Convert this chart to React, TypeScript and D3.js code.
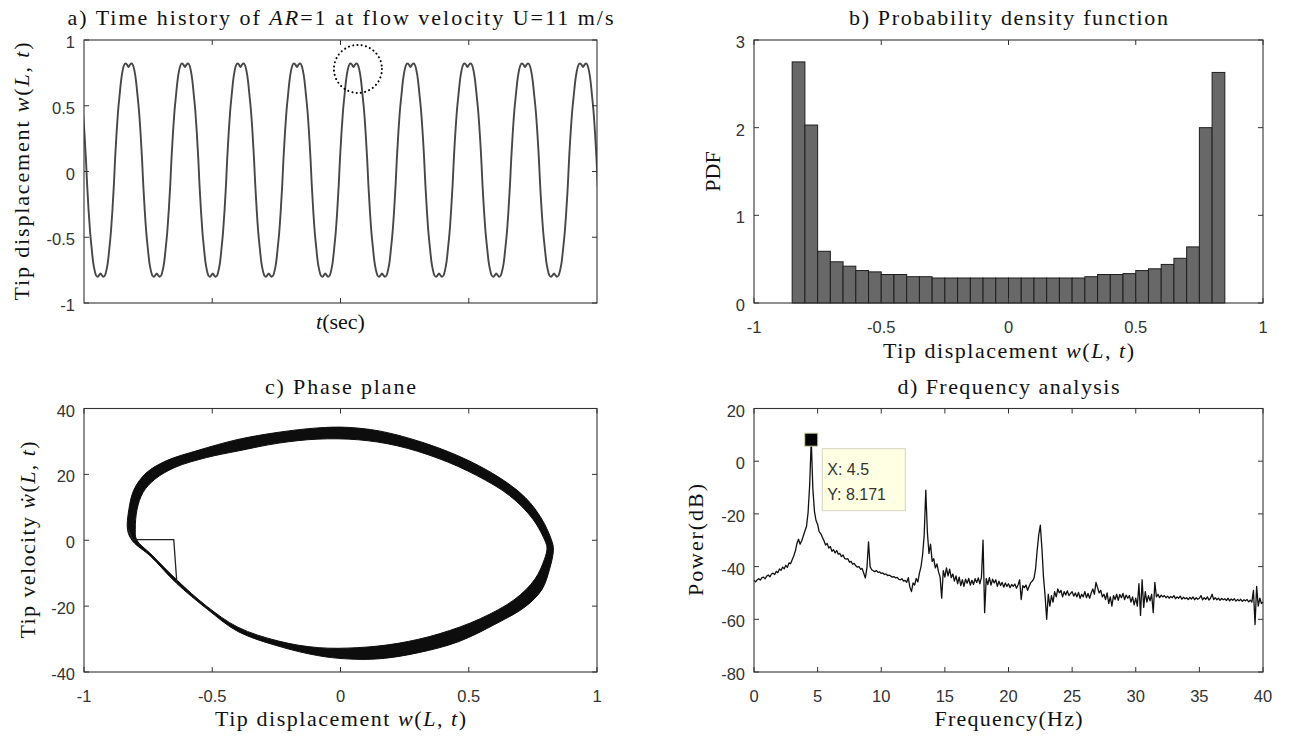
import React from "react";
import * as d3 from "d3";

// ================= DATA =================
// a) time history: instants (s) of the crest centres, and the shape of one cycle
const peakTimes = [-0.0448, 0.1735, 0.3938, 0.6101, 0.8304, 1.0507, 1.2729, 1.4951, 1.7193, 1.9454, 2.1657];
const cyclePhase = [0, 0.027, 0.053, 0.08, 0.106, 0.133, 0.159, 0.186, 0.212, 0.239, 0.25, 0.261, 0.288, 0.314, 0.341, 0.367, 0.394, 0.42, 0.447, 0.473, 0.5, 0.527, 0.553, 0.58, 0.606, 0.633, 0.659, 0.686, 0.712, 0.739, 0.75, 0.761, 0.788, 0.814, 0.841, 0.867, 0.894, 0.92, 0.947, 0.973];
const cycleValue = [0.795, 0.812, 0.822, 0.808, 0.765, 0.69, 0.58, 0.46, 0.3, 0.1, 0, -0.1, -0.3, -0.46, -0.58, -0.685, -0.75, -0.79, -0.8, -0.79, -0.775, -0.79, -0.8, -0.79, -0.75, -0.685, -0.58, -0.46, -0.3, -0.1, 0, 0.1, 0.3, 0.46, 0.58, 0.69, 0.765, 0.808, 0.822, 0.812];
const circleMark = { t: 1.068, w: 0.78 };

// b) histogram (PDF), 34 bins of width 0.05 starting at -0.85
const pdfBinStart = -0.85;
const pdfBinWidth = 0.05;
const pdfValues = [2.75, 2.03, 0.59, 0.47, 0.42, 0.37, 0.355, 0.325, 0.325, 0.3, 0.3, 0.285, 0.285, 0.285, 0.285, 0.285, 0.285, 0.285, 0.285, 0.285, 0.285, 0.285, 0.285, 0.3, 0.325, 0.325, 0.335, 0.37, 0.39, 0.44, 0.51, 0.64, 2.0, 2.63];

// c) phase plane: outer and inner edges of the band of trajectories
const phaseOuterW = [-0.83, -0.825, -0.805, -0.758, -0.68, -0.555, -0.4, -0.24, -0.09, 0.02, 0.15, 0.3, 0.46, 0.61, 0.72, 0.785, 0.825, 0.83, 0.815, 0.785, 0.72, 0.61, 0.46, 0.3, 0.15, 0.02, -0.09, -0.24, -0.4, -0.52, -0.64, -0.74, -0.81];
const phaseOuterV = [3, 9.4, 15.4, 20.4, 24.1, 27.3, 30.6, 32.8, 34.1, 34.3, 33.2, 30.2, 25.6, 19.5, 13, 6.4, -0.5, -3, -8.8, -15, -20.2, -25.2, -30.8, -34.2, -36, -36, -35, -32.2, -27.7, -20.9, -13, -4.9, -0.3];
const phaseInnerW = [-0.8, -0.793, -0.77, -0.724, -0.646, -0.522, -0.4, -0.24, -0.09, 0.07, 0.22, 0.38, 0.53, 0.66, 0.75, 0.8, 0.805, 0.795, 0.758, 0.68, 0.545, 0.385, 0.224, 0.068, -0.087, -0.242, -0.4, -0.522, -0.636, -0.735, -0.795];
const phaseInnerV = [3.3, 9.4, 14.5, 18.5, 22.1, 25.1, 27.1, 29.5, 30.7, 30.5, 28.7, 24.9, 19.7, 13.5, 6.4, -0.7, -2.5, -5.8, -11.8, -17.9, -23.8, -28.4, -31.3, -32.6, -32.6, -30.6, -26.4, -20, -12.2, -4.5, 0.2];
const transientW = [-0.828, -0.81, -0.65, -0.638];
const transientV = [3.4, 0.2, 0.2, -13];

// d) power spectrum, 0 … 40 Hz every 0.125 Hz
const freqStep = 0.125;
const powerDb = [
  -45.2, -45.8, -45.0, -44.6, -45.1, -44.2, -44.0, -44.6, -43.6, -43.2, -43.9, -42.8, -42.5, -43.0, -41.8, -42.3,
  -40.9, -41.4, -40.2, -40.8, -39.5, -40.3, -38.6, -38.9, -37.4, -36.0, -34.1, -31.2, -29.6, -31.5, -30.2, -28.4,
  -26.5, -24.8, -19.5, -9.0, 8.171, -10.5, -19.0, -22.5, -24.0, -26.8, -27.5, -28.9, -30.2, -31.8, -31.2, -33.0,
  -32.4, -34.2, -33.6, -34.8, -33.9, -35.3, -35.0, -36.2, -35.6, -36.9, -37.2, -37.0, -38.3, -38.0, -39.1, -38.8,
  -39.7, -40.2, -40.0, -41.0, -40.7, -42.5, -44.3, -40.5, -30.6, -40.0, -41.2, -41.6, -41.9, -41.5, -42.2, -42.0,
  -42.6, -42.4, -43.0, -42.8, -43.4, -43.2, -43.6, -44.0, -43.8, -44.3, -44.1, -44.8, -45.0, -44.6, -45.5, -45.2,
  -46.0, -44.2, -47.8, -49.5, -46.2, -47.0, -44.5, -45.8, -42.5, -40.0, -35.5, -28.0, -11.0, -27.0, -35.0, -31.5,
  -38.0, -37.0, -40.5, -39.0, -42.0, -44.0, -52.0, -41.5, -44.0, -40.5, -43.5, -41.0, -44.2, -42.8, -45.5, -43.5,
  -46.5, -44.0, -47.2, -45.0, -47.5, -44.8, -46.3, -44.5, -47.0, -45.2, -46.8, -44.6, -46.0, -44.3, -46.5, -44.0,
  -30.0, -57.5, -44.5, -46.8, -44.2, -47.0, -44.8, -46.2, -45.0, -47.5, -45.5, -47.2, -46.0, -47.8, -46.2, -47.5,
  -46.5, -48.0, -46.8, -47.5, -46.6, -48.2, -47.0, -45.0, -52.5, -47.2, -48.0, -47.0, -49.0, -47.5, -46.0, -45.5,
  -44.5, -41.0, -34.0, -28.0, -24.3, -33.0, -44.0, -51.0, -60.0, -50.5, -55.0, -51.0, -53.5, -49.5, -51.5, -48.5,
  -50.0, -49.0, -51.5, -49.5, -50.8, -49.2, -51.0, -50.2, -49.5, -51.2, -50.0, -51.5, -49.8, -52.0, -50.5, -51.5,
  -49.5, -51.8, -50.2, -52.0, -50.0, -48.5, -50.5, -46.0, -48.0, -50.0, -49.0, -51.5, -50.5, -52.5, -50.0, -54.0,
  -51.5, -55.0, -51.0, -52.5, -50.5, -52.8, -50.6, -51.8, -50.2, -52.5, -50.8, -52.0, -51.0, -53.5, -51.5, -54.5,
  -52.0, -55.0, -46.5, -58.5, -45.0, -55.5, -49.5, -53.5, -51.0, -53.0, -50.5, -57.5, -46.0, -51.5, -50.5, -51.8,
  -50.8, -51.5, -51.0, -51.8, -51.2, -52.0, -51.3, -51.8, -51.0, -52.2, -51.5, -52.0, -51.2, -52.4, -51.6, -52.2,
  -51.8, -52.5, -51.7, -52.3, -51.5, -52.6, -51.8, -52.4, -52.0, -51.0, -52.6, -51.8, -52.4, -51.5, -52.7, -52.0,
  -50.5, -52.5, -51.8, -52.6, -52.0, -52.8, -52.1, -52.6, -52.2, -52.9, -52.0, -53.0, -52.3, -52.8, -52.2, -53.1,
  -52.5, -53.0, -52.4, -53.2, -52.6, -53.0, -52.5, -53.4, -52.7, -53.5, -49.0, -62.0, -47.5, -55.0, -52.0, -54.0,
  -53.4,
];
const dataTip = { f: 4.5, p: 8.171 };

// tick values
const ticksA_x = [0.5, 1, 1.5];
const ticksA_y = [-1, -0.5, 0, 0.5, 1];
const ticksB_x = [-1, -0.5, 0, 0.5, 1];
const ticksB_y = [0, 1, 2, 3];
const ticksC_x = [-1, -0.5, 0, 0.5, 1];
const ticksC_y = [-40, -20, 0, 20, 40];
const ticksD_x = [0, 5, 10, 15, 20, 25, 30, 35, 40];
const ticksD_y = [-80, -60, -40, -20, 0, 20];

// ================= LAYOUT =================
const W = 1290;
const H = 736;
const SERIF = "'Liberation Serif', 'Times New Roman', serif";
const SANS = "'Liberation Sans', Arial, Helvetica, sans-serif";
const AX = "#333333";
const TXT = "#111111";

const xA = d3.scaleLinear().domain([0, 2]).range([84, 597]);
const yA = d3.scaleLinear().domain([-1, 1]).range([303, 40]);
const xB = d3.scaleLinear().domain([-1, 1]).range([754, 1263]);
const yB = d3.scaleLinear().domain([0, 3]).range([303, 40]);
const xC = d3.scaleLinear().domain([-1, 1]).range([84, 597]);
const yC = d3.scaleLinear().domain([-40, 40]).range([672, 408.5]);
const xD = d3.scaleLinear().domain([0, 40]).range([754, 1263]);
const yD = d3.scaleLinear().domain([-80, 20]).range([672, 408.5]);

const tickText: React.CSSProperties = { fontFamily: SANS, fontSize: 16.5, fill: AX };
const labelText: React.CSSProperties = { fontFamily: SERIF, fontSize: 22, fill: TXT };

function Axes({ xs, ys, xTicks, yTicks, xLabels = true }: any) {
  const [x0, x1] = xs.range();
  const [yb, yt] = ys.range();
  const tl = 5;
  return (
    <g>
      {xTicks.map((t: number) => (
        <g key={"x" + t}>
          <line x1={xs(t)} x2={xs(t)} y1={yb} y2={yb - tl} stroke={AX} strokeWidth={1} />
          <line x1={xs(t)} x2={xs(t)} y1={yt} y2={yt + tl} stroke={AX} strokeWidth={1} />
          {xLabels && (
            <text x={xs(t)} y={yb + 29.5} textAnchor="middle" style={tickText}>
              {String(t)}
            </text>
          )}
        </g>
      ))}
      {yTicks.map((t: number) => (
        <g key={"y" + t}>
          <line x1={x0} x2={x0 + tl} y1={ys(t)} y2={ys(t)} stroke={AX} strokeWidth={1} />
          <line x1={x1} x2={x1 - tl} y1={ys(t)} y2={ys(t)} stroke={AX} strokeWidth={1} />
          <text x={x0 - 9} y={ys(t) + 8} textAnchor="end" style={tickText}>
            {String(t)}
          </text>
        </g>
      ))}
      <rect x={x0} y={yt} width={x1 - x0} height={yb - yt} fill="none" stroke={AX} strokeWidth={1.1} />
    </g>
  );
}

function WLT({ dot = false }: { dot?: boolean }) {
  return (
    <>
      <tspan fontStyle="italic">{dot ? "\u1E87" : "w"}</tspan>
      <tspan>(</tspan>
      <tspan fontStyle="italic">L</tspan>
      <tspan>, </tspan>
      <tspan fontStyle="italic">t</tspan>
      <tspan>)</tspan>
    </>
  );
}

export default function App() {
  // ---- a) time history ----
  const tsPoints: [number, number][] = [];
  for (let k = 0; k < peakTimes.length - 1; k++) {
    const a = peakTimes[k];
    const b = peakTimes[k + 1];
    cyclePhase.forEach((ph, j) => tsPoints.push([a + ph * (b - a), cycleValue[j]]));
  }
  tsPoints.push([peakTimes[peakTimes.length - 1], cycleValue[0]]);
  const lineA = d3
    .line<[number, number]>()
    .x((d) => xA(d[0]))
    .y((d) => yA(d[1]))
    .curve(d3.curveMonotoneX)(tsPoints) as string;

  // ---- c) phase plane band ----
  const loop = d3
    .line<[number, number]>()
    .x((d) => xC(d[0]))
    .y((d) => yC(d[1]))
    .curve(d3.curveCatmullRomClosed.alpha(0.5));
  const outerPts = phaseOuterW.map((w, i) => [w, phaseOuterV[i]] as [number, number]);
  const innerPts = phaseInnerW.map((w, i) => [w, phaseInnerV[i]] as [number, number]);
  const bandPath = (loop(outerPts) as string) + (loop(innerPts) as string);
  const transPath = d3
    .line<[number, number]>()
    .x((d) => xC(d[0]))
    .y((d) => yC(d[1]))(transientW.map((w, i) => [w, transientV[i]] as [number, number])) as string;

  // ---- d) spectrum ----
  const specPath = d3
    .line<number>()
    .x((_, i) => xD(i * freqStep))
    .y((d) => yD(d))(powerDb) as string;
  const tipX = xD(dataTip.f);
  const tipY = yD(dataTip.p);

  return (
    <svg
      width={W}
      height={H}
      viewBox={`0 0 ${W} ${H}`}
      style={{ position: "absolute", left: 0, top: 0, background: "#fff" }}
    >
      <defs>
        <clipPath id="clipA">
          <rect x={84} y={40} width={513} height={263} />
        </clipPath>
      </defs>
      <rect x={0} y={0} width={W} height={H} fill="#fff" />

      {/* ===== a) ===== */}
      <text x={340.5} y={25} textAnchor="middle" style={labelText} textLength={546} lengthAdjust="spacing">
        <tspan>a) Time history of </tspan>
        <tspan fontStyle="italic">AR</tspan>
        <tspan>=1 at flow velocity U=11 m/s</tspan>
      </text>
      <path d={lineA} fill="none" stroke="#474747" strokeWidth={1.9} clipPath="url(#clipA)" />
      <circle
        cx={xA(circleMark.t)}
        cy={yA(circleMark.w)}
        r={24}
        fill="none"
        stroke="#000"
        strokeWidth={2}
        strokeDasharray="0.1 4.2"
        strokeLinecap="round"
      />
      <Axes xs={xA} ys={yA} xTicks={ticksA_x} yTicks={ticksA_y} xLabels={false} />
      <text x={340.5} y={329} textAnchor="middle" style={labelText}>
        <tspan fontStyle="italic">t</tspan>
        <tspan>(sec)</tspan>
      </text>
      <text transform="translate(29,171.5) rotate(-90)" textAnchor="middle" style={labelText} textLength={258} lengthAdjust="spacing">
        <tspan>Tip displacement </tspan>
        <WLT />
      </text>

      {/* ===== b) ===== */}
      <text x={1008.5} y={25} textAnchor="middle" style={labelText} textLength={319} lengthAdjust="spacing">
        b) Probability density function
      </text>
      {pdfValues.map((v, i) => {
        const xl = xB(pdfBinStart + i * pdfBinWidth);
        const xr = xB(pdfBinStart + (i + 1) * pdfBinWidth);
        return (
          <rect
            key={i}
            x={xl}
            y={yB(v)}
            width={xr - xl}
            height={yB(0) - yB(v)}
            fill="#686868"
            stroke="#1e1e1e"
            strokeWidth={1}
          />
        );
      })}
      <Axes xs={xB} ys={yB} xTicks={ticksB_x} yTicks={ticksB_y} />
      <text x={1008.5} y={358} textAnchor="middle" style={labelText} textLength={251} lengthAdjust="spacing">
        <tspan>Tip displacement </tspan>
        <WLT />
      </text>
      <text transform="translate(720,171.5) rotate(-90)" textAnchor="middle" style={labelText}>
        PDF
      </text>

      {/* ===== c) ===== */}
      <text x={340.5} y={393.5} textAnchor="middle" style={labelText} textLength={151} lengthAdjust="spacing">
        c) Phase plane
      </text>
      <path d={bandPath} fill="#0d0d0d" fillRule="evenodd" stroke="#0d0d0d" strokeWidth={1} />
      <path d={transPath} fill="none" stroke="#222" strokeWidth={1.3} />
      <Axes xs={xC} ys={yC} xTicks={ticksC_x} yTicks={ticksC_y} />
      <text x={340.5} y={726} textAnchor="middle" style={labelText} textLength={251} lengthAdjust="spacing">
        <tspan>Tip displacement </tspan>
        <WLT />
      </text>
      <text transform="translate(35,540) rotate(-90)" textAnchor="middle" style={labelText} textLength={197} lengthAdjust="spacing">
        <tspan>Tip velocity </tspan>
        <WLT dot />
      </text>

      {/* ===== d) ===== */}
      <text x={1008.5} y={393.5} textAnchor="middle" style={labelText} textLength={222} lengthAdjust="spacing">
        d) Frequency analysis
      </text>
      <path d={specPath} fill="none" stroke="#111" strokeWidth={1.3} strokeLinejoin="round" />
      <Axes xs={xD} ys={yD} xTicks={ticksD_x} yTicks={ticksD_y} />
      <rect x={tipX - 6.5} y={tipY - 6.5} width={13} height={13} fill="#000" stroke="#cfcf9a" strokeWidth={1} />
      <rect x={tipX + 11} y={tipY + 9} width={83} height={62} fill="#ffffe4" stroke="#d6d6c0" strokeWidth={1} />
      <text x={tipX + 16} y={tipY + 35} style={{ fontFamily: SANS, fontSize: 16, fill: "#333" }}>
        X: {dataTip.f}
      </text>
      <text x={tipX + 16} y={tipY + 60} style={{ fontFamily: SANS, fontSize: 16, fill: "#333" }}>
        Y: {dataTip.p}
      </text>
      <text x={1008.5} y={726} textAnchor="middle" style={labelText} textLength={148} lengthAdjust="spacing">
        Frequency(Hz)
      </text>
      <text transform="translate(703,540) rotate(-90)" textAnchor="middle" style={labelText} textLength={112} lengthAdjust="spacing">
        Power(dB)
      </text>
    </svg>
  );
}
